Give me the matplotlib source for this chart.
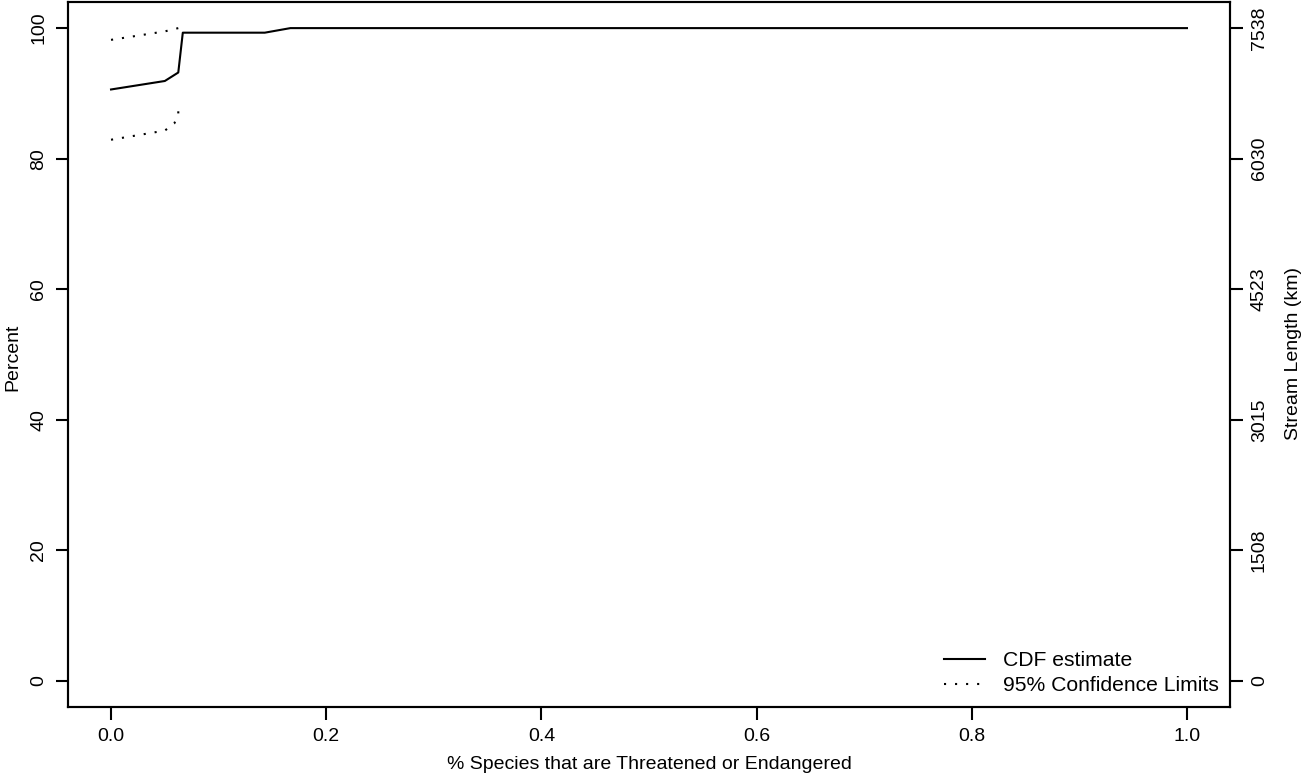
import matplotlib
matplotlib.use("Agg")
import matplotlib.pyplot as plt

# CDF estimate (fraction of species threatened/endangered vs percent of stream length)
cdf_x = [0.0, 0.05, 0.0625, 0.0667, 0.1429, 0.1667, 1.0]
cdf_y = [90.6, 91.9, 93.2, 99.3, 99.3, 100.0, 100.0]
# 95% confidence limits
upper_x = [0.0, 0.05, 0.0625]
upper_y = [98.2, 99.5, 100.0]
lower_x = [0.0, 0.05, 0.0588, 0.0625, 0.0625]
lower_y = [82.9, 84.3, 85.4, 86.8, 88.4]

pct_ticks = [0, 20, 40, 60, 80, 100]
km_labels = ["0", "1508", "3015", "4523", "6030", "7538"]
x_ticks = [0.0, 0.2, 0.4, 0.6, 0.8, 1.0]

plt.rcParams['font.family'] = ['Liberation Sans', 'DejaVu Sans']
FS = 14

fig = plt.figure(figsize=(13.16, 7.78), dpi=100)
ax = fig.add_axes([68 / 1316, 71 / 778, (1230 - 68) / 1316, (707 - 2) / 778])

ax.plot(cdf_x, cdf_y, color='black', lw=1.5, label='CDF estimate')
ax.plot(upper_x, upper_y, color='black', lw=1.5, ls=(0, (1, 4.3)),
        label='95% Confidence Limits')
ax.plot(lower_x, lower_y, color='black', lw=1.5, ls=(0, (1, 4.3)))

ax.set_xlim(-0.04, 1.04)
ax.set_ylim(-4, 104)
ax.set_xticks(x_ticks)
ax.set_xticklabels([f"{v:.1f}" for v in x_ticks])
ax.set_yticks(pct_ticks)
ax.set_yticklabels([str(v) for v in pct_ticks], rotation=90, va='center')
ax.tick_params(length=9, width=1.5, labelsize=FS, pad=6)
for s in ax.spines.values():
    s.set_linewidth(1.5)
ax.set_xlabel("% Species that are Threatened or Endangered", fontsize=FS, labelpad=8)

ax2 = ax.twinx()
ax2.set_ylim(ax.get_ylim())
ax2.set_yticks(pct_ticks)
ax2.set_yticklabels(km_labels, rotation=90, va='center')
ax2.tick_params(length=9, width=1.5, labelsize=FS, pad=6)
for s in ax2.spines.values():
    s.set_linewidth(1.5)

# axis titles placed like R's mtext
fig.text(13 / 1316, 1 - 357 / 778, "Percent", rotation=90, ha='center', va='center', fontsize=FS)
fig.text(1294 / 1316, 1 - 354 / 778, "Stream Length (km)", rotation=90, ha='center', va='center', fontsize=FS)

ax.legend(loc='lower right', frameon=False, fontsize=15.2, handlelength=1.9,
          handletextpad=0.85, labelspacing=0.3, borderpad=0.1, borderaxespad=0.45)

fig.savefig("out.png", dpi=100)
